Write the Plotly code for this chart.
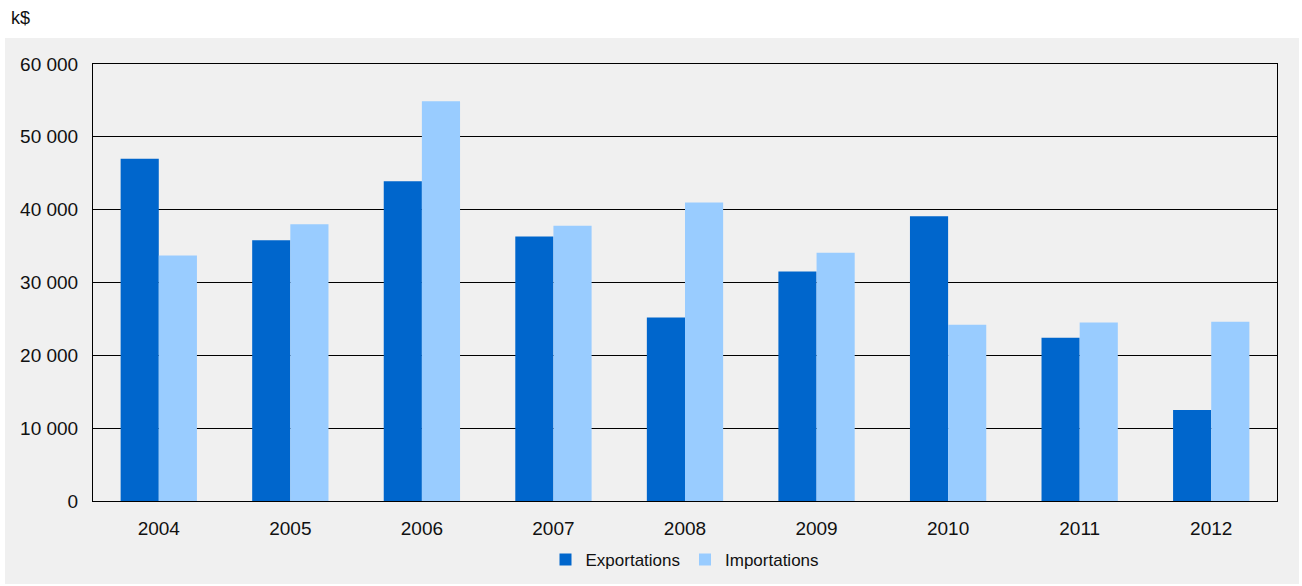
import plotly.graph_objects as go

years = ["2004", "2005", "2006", "2007", "2008", "2009", "2010", "2011", "2012"]
exportations = [47000, 35800, 43900, 36300, 25200, 31500, 39100, 22400, 12500]
importations = [33700, 38000, 54900, 37800, 41000, 34100, 24200, 24500, 24600]

W, H = 1302, 591
L, R = 93, 25
T = 64
B = H - 501
pw, ph = W - L - R, H - T - B

def px_x(p):
    return (p - L) / pw

def px_y(p):
    return (H - B - p) / ph

fig = go.Figure()
fig.add_trace(go.Bar(name="Exportations", x=years, y=exportations, marker=dict(color="#0066CC", line=dict(width=0))))
fig.add_trace(go.Bar(name="Importations", x=years, y=importations, marker=dict(color="#99CCFF", line=dict(width=0))))

fig.add_shape(type="rect", xref="paper", yref="paper",
              x0=px_x(5), x1=px_x(1299), y0=px_y(584), y1=px_y(38),
              fillcolor="#F0F0F0", line=dict(width=0), layer="below")

fig.add_annotation(text="k$", xref="paper", yref="paper", x=px_x(9), y=px_y(18),
                   xanchor="left", yanchor="middle", showarrow=False,
                   font=dict(size=18, color="#111"))

fig.update_layout(
    width=W, height=H,
    margin=dict(l=L, r=R, t=T, b=B, autoexpand=False),
    paper_bgcolor="white", plot_bgcolor="white",
    barmode="group", bargap=0.42, bargroupgap=0,
    separators=", ",
    font=dict(family="Liberation Sans, Arial, sans-serif", size=19, color="#111"),
    legend=dict(orientation="h", x=0.5, xanchor="center", y=px_y(560), yanchor="middle",
                bgcolor="rgba(0,0,0,0)", font=dict(size=17), traceorder="normal",
                itemwidth=30),
    showlegend=True,
)
fig.update_xaxes(showline=True, linecolor="black", linewidth=1, mirror=True,
                 ticks="", tickfont=dict(size=19), showgrid=False, ticklabelstandoff=10)
fig.update_yaxes(range=[0, 60000], dtick=10000, tickformat=",d",
                 showline=True, linecolor="black", linewidth=1, mirror=True,
                 showgrid=True, gridcolor="black", gridwidth=1,
                 zeroline=False, ticks="", ticklabelstandoff=10, tickfont=dict(size=19))

fig.write_html(
    "out.html",
    config={"displayModeBar": False},
    post_script=(
        "document.documentElement.style.cssText='margin:0;padding:0;overflow:hidden';"
        "document.body.style.cssText='margin:0;padding:0;overflow:hidden';"
    ),
)
